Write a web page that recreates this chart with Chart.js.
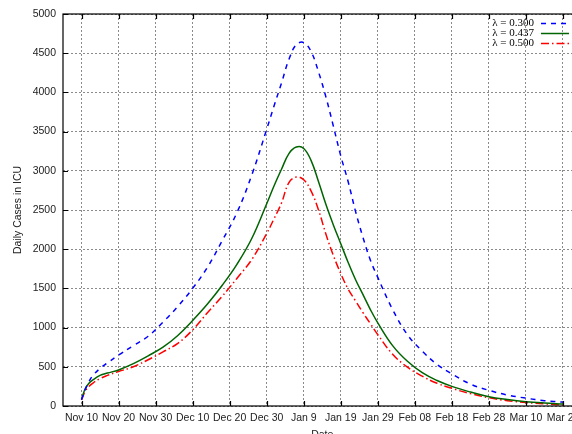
<!DOCTYPE html>
<html lang="en">
<head>
<meta charset="UTF-8">
<title>Daily Cases in ICU</title>
<script src="https://cdn.jsdelivr.net/npm/chart.js"></script>
<style>
  html, body { margin: 0; padding: 0; overflow: hidden; background: #fff; }
  #wrap { width: 600px; height: 445px; }
</style>
</head>
<body>
<div id="wrap"><canvas id="icuChart"></canvas></div>
<script>
// days counted from Nov 10
const days = [0, 1, 2, 3, 5, 7, 10, 14, 18, 22, 26, 30, 34, 38, 42, 46, 50, 52, 54, 56, 58, 60, 62, 64, 66, 68, 70, 72, 74, 76, 78, 80, 84, 88, 92, 96, 100, 105, 110, 115, 120, 125, 130];
const lambda300 = [80, 210, 310, 385, 480, 550, 650, 770, 890, 1070, 1270, 1500, 1770, 2110, 2470, 2950, 3530, 3830, 4120, 4420, 4610, 4635, 4520, 4260, 3940, 3570, 3190, 2860, 2480, 2150, 1860, 1640, 1230, 910, 700, 530, 410, 280, 200, 140, 100, 68, 50];
const lambda437 = [90, 220, 290, 330, 390, 420, 460, 540, 640, 750, 900, 1090, 1300, 1540, 1810, 2140, 2580, 2810, 3020, 3220, 3303, 3285, 3130, 2860, 2570, 2310, 2070, 1830, 1610, 1420, 1230, 1060, 770, 570, 425, 325, 250, 178, 118, 82, 55, 38, 26];
const lambda500 = [77, 190, 250, 290, 350, 390, 440, 500, 590, 690, 800, 970, 1190, 1400, 1630, 1870, 2200, 2390, 2590, 2850, 2920, 2885, 2740, 2500, 2190, 1920, 1690, 1490, 1340, 1190, 1050, 910, 660, 495, 380, 290, 225, 158, 105, 68, 45, 27, 13];
const seriesNames = ['λ = 0.300', 'λ = 0.437', 'λ = 0.500'];

const tickDays = [0, 10, 20, 30, 40, 50, 60, 70, 80, 90, 100, 110, 120, 130];
const dateLabels = ['Nov 10', 'Nov 20', 'Nov 30', 'Dec 10', 'Dec 20', 'Dec 30', 'Jan 9', 'Jan 19', 'Jan 29', 'Feb 08', 'Feb 18', 'Feb 28', 'Mar 10', 'Mar 20'];

const toPoints = vals => days.map((d, i) => ({ x: d, y: vals[i] }));

// frame + inward ticks, like the gnuplot box
const framePlugin = {
  id: 'frame',
  afterDraw(chart) {
    const { ctx, chartArea: a, scales } = chart;
    ctx.save();
    ctx.strokeStyle = '#000';
    ctx.lineWidth = 1.2;
    ctx.setLineDash([]);
    ctx.strokeRect(a.left, a.top, a.right - a.left, a.bottom - a.top);
    ctx.beginPath();
    scales.x.ticks.forEach(t => {
      const px = Math.round(scales.x.getPixelForValue(t.value)) + 0.5;
      ctx.moveTo(px, a.bottom); ctx.lineTo(px, a.bottom - 5);
      ctx.moveTo(px, a.top); ctx.lineTo(px, a.top + 5);
    });
    scales.y.ticks.forEach(t => {
      const py = Math.round(scales.y.getPixelForValue(t.value)) + 0.5;
      ctx.moveTo(a.left, py); ctx.lineTo(a.left + 5, py);
    });
    ctx.stroke();
    ctx.restore();
  }
};

// legend inside the plot, text then line sample
const keyPlugin = {
  id: 'key',
  afterDraw(chart) {
    const { ctx } = chart;
    ctx.save();
    ctx.font = '11px "Liberation Serif", serif';
    ctx.textAlign = 'right';
    ctx.textBaseline = 'middle';
    chart.data.datasets.forEach((ds, i) => {
      const y = 23 + i * 10;
      ctx.fillStyle = '#000';
      ctx.fillText(ds.label, 534, y);
      ctx.strokeStyle = ds.borderColor;
      ctx.lineWidth = ds.borderWidth;
      ctx.setLineDash(ds.borderDash || []);
      ctx.beginPath();
      ctx.moveTo(541, y + 0.5);
      ctx.lineTo(569, y + 0.5);
      ctx.stroke();
    });
    ctx.restore();
  }
};

const ctx = document.getElementById('icuChart');
const icuChart = new Chart(ctx, {
  type: 'line',
  data: {
    datasets: [
      { label: seriesNames[0], data: toPoints(lambda300), borderColor: '#0000ff', borderWidth: 1.5, borderDash: [5, 5] },
      { label: seriesNames[1], data: toPoints(lambda437), borderColor: '#006400', borderWidth: 1.5, borderDash: [] },
      { label: seriesNames[2], data: toPoints(lambda500), borderColor: '#ff0000', borderWidth: 1.5, borderDash: [8, 3, 1.5, 3] }
    ]
  },
  options: {
    responsive: true,
    maintainAspectRatio: false,
    animation: false,
    layout: { padding: { top: 14, right: 18.5, left: 0, bottom: 0 } },
    elements: {
      point: { radius: 0 },
      line: { tension: 0.4, fill: false }
    },
    plugins: { legend: { display: false }, tooltip: { enabled: false } },
    scales: {
      x: {
        type: 'linear',
        min: -5,
        max: 135,
        afterBuildTicks: s => { s.ticks = tickDays.map(v => ({ value: v })); },
        afterFit: s => { s.height = 39; },
        grid: { color: '#8a8a8a', drawTicks: false, lineWidth: 1 },
        border: { display: false, dash: [2, 2] },
        ticks: {
          autoSkip: false, maxRotation: 0, padding: 6, color: '#222',
          font: { family: '"Liberation Sans", Arial, sans-serif', size: 10.5 },
          callback: v => dateLabels[tickDays.indexOf(v)]
        },
        title: { display: true, text: 'Date', color: '#222', padding: { top: 3 },
                 font: { family: '"Liberation Sans", Arial, sans-serif', size: 10.5 } }
      },
      y: {
        min: 0,
        max: 5000,
        afterFit: s => { s.width = 63; },
        grid: { color: '#8a8a8a', drawTicks: false, lineWidth: 1 },
        border: { display: false, dash: [2, 2] },
        ticks: {
          stepSize: 500, padding: 7, color: '#222',
          font: { family: '"Liberation Sans", Arial, sans-serif', size: 10.5 },
          callback: v => String(v)
        },
        title: { display: true, text: 'Daily Cases in ICU', color: '#222', padding: { top: 12, bottom: 0 },
                 font: { family: '"Liberation Sans", Arial, sans-serif', size: 10.5 } }
      }
    }
  },
  plugins: [framePlugin, keyPlugin]
});
</script>
</body>
</html>
